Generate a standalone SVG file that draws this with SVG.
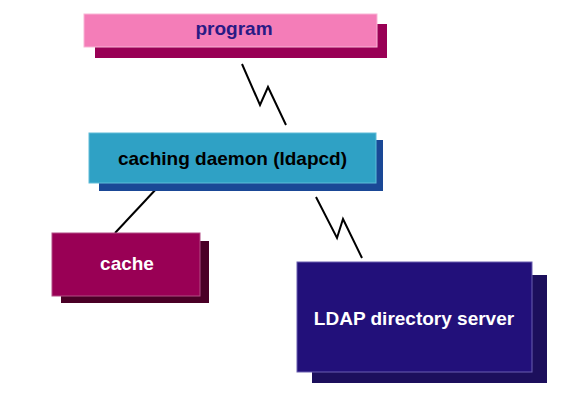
<svg xmlns="http://www.w3.org/2000/svg" width="568" height="416" viewBox="0 0 568 416">
<style>
  text { font-family: "Liberation Sans", Arial, sans-serif; font-weight: bold; text-anchor: middle; font-size: 19px; }
  .conn { fill: none; stroke: #000; stroke-width: 2; }
</style>
<rect width="568" height="416" fill="#fff"/>
<g id="connectors">
  <path class="conn" d="M242,64 L260,105 L268,87 L286,125"/>
  <path class="conn" d="M158,187 L115,233"/>
  <path class="conn" d="M316,197 L337,238 L343,219 L362,258"/>
</g>
<g id="program">
  <rect x="95" y="24" width="292" height="34" fill="#990055"/>
  <rect x="84" y="14" width="293" height="33" fill="#F47DB8" stroke="#F9B5D6" stroke-width="1"/>
  <text x="234" y="35" fill="#2A1A85">program</text>
</g>
<g id="caching">
  <rect x="99" y="140" width="284" height="51" fill="#1A4896"/>
  <rect x="89" y="133" width="287" height="50" fill="#2FA1C5" stroke="#5FBCD8" stroke-width="1"/>
  <text x="232.5" y="165" fill="#000">caching daemon (ldapcd)</text>
</g>
<g id="cache">
  <rect x="61" y="241" width="148" height="62" fill="#4A0026"/>
  <rect x="52" y="233" width="148" height="63" fill="#990055" stroke="#B24D85" stroke-width="1"/>
  <text x="127" y="270" fill="#fff">cache</text>
</g>
<g id="ldap">
  <rect x="312" y="275" width="235" height="108" fill="#1C0F5C"/>
  <rect x="297" y="262" width="235" height="110" fill="#22107A" stroke="#6A5FB0" stroke-width="1"/>
  <text x="414" y="325" fill="#fff">LDAP directory server</text>
</g>
</svg>
